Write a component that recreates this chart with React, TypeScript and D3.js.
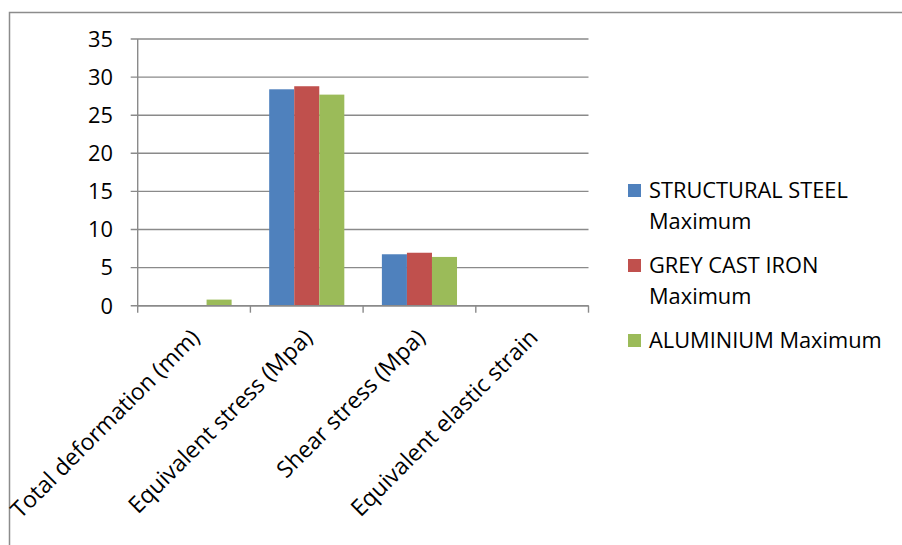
import React from "react";
import * as d3 from "d3";

// ── Data ──────────────────────────────────────────────────────────────────────
const categories = [
  "Total deformation (mm)",
  "Equivalent stress (Mpa)",
  "Shear stress (Mpa)",
  "Equivalent elastic strain",
];
const seriesNames = ["STRUCTURAL STEEL Maximum", "GREY CAST IRON Maximum", "ALUMINIUM Maximum"];
const structuralSteel = [0.02, 28.4, 6.75, 0.0001];
const greyCastIron = [0.04, 28.8, 6.95, 0.0002];
const aluminium = [0.8, 27.7, 6.4, 0.0004];
const yTicks = [0, 5, 10, 15, 20, 25, 30, 35];

// legend text, split the way the reference wraps it
const legendLines = [["STRUCTURAL STEEL", "Maximum"], ["GREY CAST IRON", "Maximum"], ["ALUMINIUM Maximum"]];

const COLORS = ["#4F81BD", "#C0504D", "#9BBB59"];
const GRID = "#8A8A8A";
const FONT = "'Open Sans', sans-serif";
const FS = 21.8;
const FS_CAT = 23;

// ── Layout ────────────────────────────────────────────────────────────────────
const W = 902;
const H = 545;
const PLOT = { left: 137.7, right: 588.5, top: 39, bottom: 305.7 };

export default function App() {
  const values = [structuralSteel, greyCastIron, aluminium];

  const x0 = d3.scaleBand<string>().domain(categories).range([PLOT.left, PLOT.right]).paddingInner(0).paddingOuter(0);
  const x1 = d3
    .scaleBand<string>()
    .domain(seriesNames)
    .range([0, x0.bandwidth()])
    .paddingInner(0)
    .paddingOuter(0.75);
  const y = d3.scaleLinear().domain([0, 35]).range([PLOT.bottom, PLOT.top]);

  const boundaries = [...categories.map((c) => x0(c)!), PLOT.right];

  return (
    <svg
      width={W}
      height={H}
      style={{ position: "fixed", left: 0, top: 0, background: "#fff" }}
      fontFamily={FONT}
    >
      {/* outer chart frame (right/bottom sides run off the picture) */}
      <rect x={9.5} y={12.5} width={1000} height={1000} fill="none" stroke="#8C8C8C" strokeWidth={1.5} />

      {/* gridlines */}
      {yTicks.map((t) => (
        <line key={t} x1={PLOT.left - 7} x2={PLOT.right} y1={y(t)} y2={y(t)} stroke={GRID} strokeWidth={1.4} />
      ))}

      {/* y axis */}
      <line x1={PLOT.left} x2={PLOT.left} y1={PLOT.top} y2={PLOT.bottom} stroke={GRID} strokeWidth={1.4} />
      {yTicks.map((t) => (
        <text key={t} x={113} y={y(t)} dy="0.36em" textAnchor="end" fontSize={FS} fill="#000">
          {t}
        </text>
      ))}

      {/* bars */}
      {values.map((vals, si) =>
        categories.map((c, ci) => (
          <rect
            key={`${si}-${ci}`}
            x={x0(c)! + x1(seriesNames[si])!}
            y={y(vals[ci])}
            width={x1.bandwidth()}
            height={y(0) - y(vals[ci])}
            fill={COLORS[si]}
          />
        ))
      )}

      {/* x axis */}
      <line x1={PLOT.left} x2={PLOT.right} y1={PLOT.bottom} y2={PLOT.bottom} stroke={GRID} strokeWidth={1.4} />
      {boundaries.map((bx, i) => (
        <line key={i} x1={bx} x2={bx} y1={PLOT.bottom} y2={PLOT.bottom + 7} stroke={GRID} strokeWidth={1.4} />
      ))}
      {categories.map((c) => {
        const cx = x0(c)! + x0.bandwidth() / 2 + 7;
        const cy = 339;
        return (
          <text
            key={c}
            x={cx}
            y={cy}
            textAnchor="end"
            fontSize={FS_CAT}
            fill="#000"
            transform={`rotate(-45 ${cx} ${cy})`}
          >
            {c}
          </text>
        );
      })}

      {/* legend */}
      {legendLines.map((lines, i) => {
        const base = [198, 273, 348][i];
        return (
          <g key={i}>
            <rect x={628} y={base - 14} width={13} height={13} fill={COLORS[i]} />
            {lines.map((ln, j) => (
              <text key={j} x={649} y={base + j * 31} fontSize={FS} fill="#000">
                {ln}
              </text>
            ))}
          </g>
        );
      })}
    </svg>
  );
}
